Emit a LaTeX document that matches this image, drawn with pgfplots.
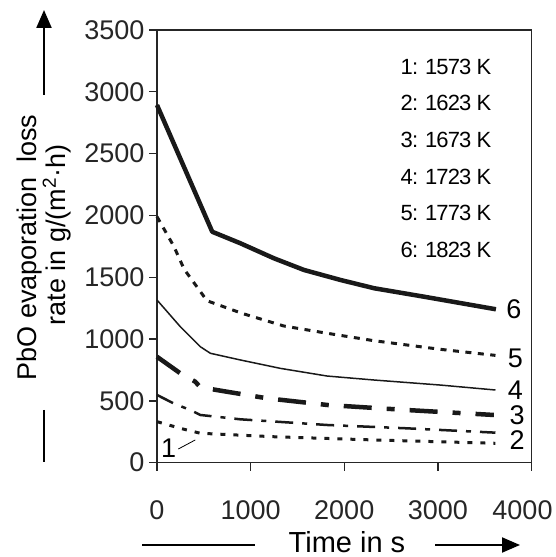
\documentclass[border=0pt]{standalone}
\usepackage{fontspec}
\setmainfont{Liberation Sans}
\usepackage{pgfplots}
\pgfplotsset{compat=1.18}
\usetikzlibrary{arrows.meta}

\newcommand{\bigf}{\fontsize{27}{30}\selectfont}
\newcommand{\legf}{\fontsize{22}{24}\selectfont\addfontfeature{LetterSpace=-4}}

\begin{document}
\begin{tikzpicture}[x=1pt,y=1pt]
\path[use as bounding box] (0,0) rectangle (556,557);

\begin{axis}[
    at={(157pt,94.3pt)}, anchor=south west,
    scale only axis, width=374.5pt, height=432.7pt,
    xmin=0, xmax=4000, ymin=0, ymax=3500,
    xtick={0,1000,2000,3000,4000},
    xticklabels={0,1000,2000,3000,\makebox[0pt]{\hspace{-18pt}4000}},
    ytick={0,500,...,3500},
    tick pos=left, tick align=outside, major tick length=8pt,
    axis line style={line width=1.3pt, black!85},
    every tick/.style={line width=1.3pt, black!85},
    /pgf/number format/assume math mode=true,
    /pgf/number format/1000 sep={},
    ticklabel style={font=\bigf, black!85},
    xticklabel style={yshift=-26pt},
    yticklabel style={xshift=-1pt},
    clip=false,
]
% 6: 1823 K
\addplot[black!90, line width=4.5pt, line join=round] coordinates {
  (0,2893) (590,1868) (890,1775) (1250,1653) (1570,1559) (1960,1478)
  (2320,1411) (2850,1343) (3620,1241)};
% 5: 1773 K
\addplot[black!90, line width=3pt, dash pattern=on 6pt off 6.5pt] coordinates {
  (0,1990) (180,1750) (290,1565) (534,1310) (908,1208) (1353,1106)
  (1817,1047) (2315,987) (3027,917) (3615,868)};
% 4: 1723 K
\addplot[black!90, line width=1.5pt] coordinates {
  (0,1316) (249,1100) (463,938) (570,885) (890,831) (1318,763)
  (1817,701) (2315,669) (3027,628) (3615,588)};
% 3: 1673 K
\addplot[black!90, line width=4.5pt, dash pattern=on 28pt off 15pt on 8pt off 15pt] coordinates {
  (0,857) (249,723) (409,655) (463,610) (748,574) (1175,521)
  (1817,467) (2672,426) (3598,386)};
% 2: 1623 K
\addplot[black!90, line width=2.5pt, dash pattern=on 18pt off 9pt on 5pt off 9pt] coordinates {
  (0,548) (177,480) (356,426) (463,386) (890,351) (1817,305)
  (2672,278) (3615,243)};
% 1: 1573 K
\addplot[black!90, line width=3pt, dash pattern=on 5pt off 8pt] coordinates {
  (0,332) (249,278) (463,238) (1246,210) (2315,184) (3615,157)};

% curve numbers
\node[font=\bigf, inner sep=0pt] at (axis cs:3811,1243) {6};
\node[font=\bigf, inner sep=0pt] at (axis cs:3829,844) {5};
\node[font=\bigf, inner sep=0pt] at (axis cs:3829,588) {4};
\node[font=\bigf, inner sep=0pt] at (axis cs:3847,386) {3};
\node[font=\bigf, inner sep=0pt] at (axis cs:3847,184) {2};
\node[font=\bigf, inner sep=0pt] at (axis cs:124,116) {1};
\draw[line width=0.8pt] (axis cs:228,111) -- (axis cs:409,184);

% temperature key
\node[font=\legf, anchor=base west, inner sep=0pt] at (axis cs:2600,3136) {1: 1573 K};
\node[font=\legf, anchor=base west, inner sep=0pt] at (axis cs:2600,2845) {2: 1623 K};
\node[font=\legf, anchor=base west, inner sep=0pt] at (axis cs:2600,2546) {3: 1673 K};
\node[font=\legf, anchor=base west, inner sep=0pt] at (axis cs:2600,2247) {4: 1723 K};
\node[font=\legf, anchor=base west, inner sep=0pt] at (axis cs:2600,1956) {5: 1773 K};
\node[font=\legf, anchor=base west, inner sep=0pt] at (axis cs:2600,1656) {6: 1823 K};
\end{axis}

% y axis title with arrow
\node[rotate=90, anchor=base, font=\bigf, inner sep=0pt] at (36,309.5) {PbO evaporation\ \ loss};
\node[rotate=90, anchor=base, font=\bigf, inner sep=0pt] at (65,322) {rate in g/(m\textsuperscript{2}·h)};
\draw[line width=2.2pt, -{Triangle[length=18pt,width=15pt]}] (44,462) -- (44,547);
\draw[line width=2.2pt] (44,147) -- (44,95);

% x axis title with arrow
\node[anchor=base, font=\fontsize{29}{32}\selectfont, inner sep=0pt] at (347,5) {Time in s};
\draw[line width=2pt] (142,12) -- (255,12);
\draw[line width=2pt, -{Triangle[length=18pt,width=15pt]}] (435,12) -- (520,12);
\end{tikzpicture}
\end{document}
